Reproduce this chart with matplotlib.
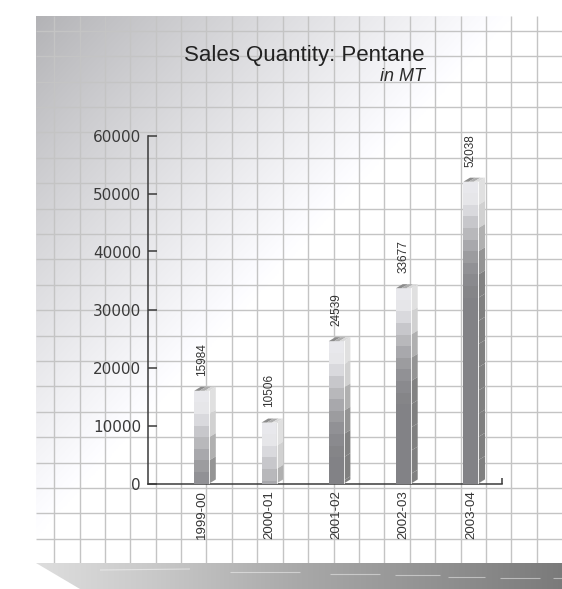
import numpy as np
import matplotlib
matplotlib.use("Agg")
import matplotlib.pyplot as plt
from matplotlib.patches import Polygon
from matplotlib.collections import LineCollection, PolyCollection

# ---------------- data ----------------
categories = ["1999-00", "2000-01", "2001-02", "2002-03", "2003-04"]
sales_mt = [15984, 10506, 24539, 33677, 52038]
y_ticks = [0, 10000, 20000, 30000, 40000, 50000, 60000]
title = "Sales Quantity: Pentane"
subtitle = "in MT"

W, H = 562, 589
fig = plt.figure(figsize=(W / 100, H / 100), dpi=100)
fig.patch.set_facecolor("white")

# ---------------- decorative background (pixel coordinates) ----------------
bg = fig.add_axes([0, 0, 1, 1], zorder=0)
bg.set_xlim(0, W)
bg.set_ylim(H, 0)
bg.axis("off")

px0, px1, py0, py1 = 36, 562, 16, 563
xs = np.linspace(px0, px1, 300)
ys = np.linspace(py0, py1, 300)
X, Y = np.meshgrid(xs, ys)
s = (X - px0) / 475 + (Y - py0) / 520
g = 0.70 + 0.30 * np.clip(s, 0, 1) ** 0.9
img = np.dstack([g, g, np.clip(g + 0.012, 0, 1)])
bg.imshow(img, extent=(px0, px1, py1, py0), aspect="auto",
          interpolation="bilinear", zorder=0)

gx = 54.1 + 25.4 * np.arange(20)
gy = 30.8 + 25.4 * np.arange(21)
segs = [[(x, py0), (x, py1)] for x in gx] + [[(px0, y), (px1, y)] for y in gy]
bg.add_collection(LineCollection(segs, colors="#c4c4c4", linewidths=1.0, zorder=1))

# bottom strip
sx = np.linspace(36, 562, 400)
sg = np.interp(sx, [36, 150, 300, 450, 562], [0.87, 0.79, 0.66, 0.56, 0.48])
strip = np.tile(np.dstack([sg, sg, sg]), (10, 1, 1))
im = bg.imshow(strip, extent=(36, 562, 589, 563), aspect="auto", zorder=1)
clip = Polygon([(36, 563), (562, 563), (562, 589), (80, 589)], closed=True,
               transform=bg.transData, facecolor="none", edgecolor="none")
bg.add_patch(clip)
im.set_clip_path(clip)
streaks = [[(100, 570), (190, 569)], [(230, 572), (300, 572)], [(330, 574), (380, 574)],
           [(395, 575), (440, 575)], [(448, 577), (485, 577)], [(500, 578), (540, 578)],
           [(553, 578), (562, 578)]]
bg.add_collection(LineCollection(streaks, colors=(1, 1, 1, 0.45), linewidths=0.8, zorder=2))

# titles
fig.text(425 / W, 1 - 60.7 / H, title, ha="right", va="baseline", fontsize=16,
         family="Liberation Sans", color="#222222")
fig.text(425 / W, 1 - 81 / H, subtitle, ha="right", va="baseline", fontsize=13,
         family="Liberation Sans", style="italic", color="#2b2b2b")

# ---------------- main axes ----------------
ax_left, ax_right, ax_top, ax_bot = 148, 502, 135.5, 483.5
ax = fig.add_axes([ax_left / W, 1 - ax_bot / H, (ax_right - ax_left) / W,
                   (ax_bot - ax_top) / H], zorder=2)
ax.patch.set_visible(False)
unit_px = 67.3
x0px = 201.7
ax.set_xlim((ax_left - x0px) / unit_px, (ax_right - x0px) / unit_px)
ax.set_ylim(0, 60000)
for sp in ["top", "right"]:
    ax.spines[sp].set_visible(False)
for sp in ["left", "bottom"]:
    ax.spines[sp].set_color("#3a3a3a")
    ax.spines[sp].set_linewidth(1.1)
ax.plot([1, 1], [0, 5.5 / (ax_bot - ax_top)], transform=ax.transAxes,
        color="#3a3a3a", lw=1.1, clip_on=False, solid_capstyle="butt")

ax.set_yticks(y_ticks)
ax.set_yticklabels([str(t) for t in y_ticks])
ax.tick_params(axis="y", direction="in", length=6.5, width=1.1, color="#3a3a3a",
               pad=5, labelsize=11, labelcolor="#3a3a3a")
ax.set_xticks(range(len(categories)))
ax.set_xticklabels(categories, rotation=90, family="Liberation Sans")
ax.tick_params(axis="x", length=0, pad=5, labelsize=9.5, labelcolor="#333333")

px_per_unit_y = (ax_bot - ax_top) / 60000
band = 2000
front_w = 15 / unit_px
dx = 6.6 / unit_px
dy = 4.0 / px_per_unit_y
levels = [0.91, 0.90, 0.85, 0.78, 0.72, 0.66, 0.61, 0.57, 0.54, 0.52, 0.51]


def lev(k):
    return levels[min(k, len(levels) - 1)]


def gcol(v, tint=0.015):
    return (v, v, min(1, v + tint))


for i, v in enumerate(sales_mt):
    tops = np.arange(v, 0, -band)
    bottoms = np.maximum(tops - band, 0)
    cols = [gcol(lev(k)) for k in range(len(tops))]
    ax.bar([i] * len(tops), tops - bottoms, bottom=bottoms, width=front_w,
           color=cols, edgecolor="none", linewidth=0, zorder=3)
    xl, xr = i - front_w / 2, i + front_w / 2
    # side face
    polys, scols = [], []
    for j, t in enumerate(np.arange(v, 0, -4000)):
        b = max(t - 4000, 0)
        polys.append([(xr, b), (xr + dx, b + dy), (xr + dx, t + dy), (xr, t)])
        scols.append(gcol(max(lev(2 * j) - 0.03, 0.50), 0.0))
    ax.add_collection(PolyCollection(polys, facecolors=scols, edgecolors="none", zorder=3))
    # top face
    tpolys, tcols = [], []
    for u0, u1, c in [(0, 0.35, 0.55), (0.35, 0.7, 0.68), (0.7, 1.0, 0.85)]:
        a0, a1 = xl + u0 * front_w, xl + u1 * front_w
        tpolys.append([(a0, v), (a1, v), (a1 + dx, v + dy), (a0 + dx, v + dy)])
        tcols.append(gcol(c, 0.0))
    ax.add_collection(PolyCollection(tpolys, facecolors=tcols, edgecolors="none", zorder=3))
    ax.plot([xr, xr], [0, v], color="white", lw=0.7, alpha=0.8, zorder=4)
    ax.annotate(str(v), (i, v + dy), xytext=(0, 8), textcoords="offset points",
                rotation=90, ha="center", va="bottom", fontsize=8.5,
                family="Liberation Sans", color="#333333")

fig.savefig("out.png", dpi=100, facecolor="white")
